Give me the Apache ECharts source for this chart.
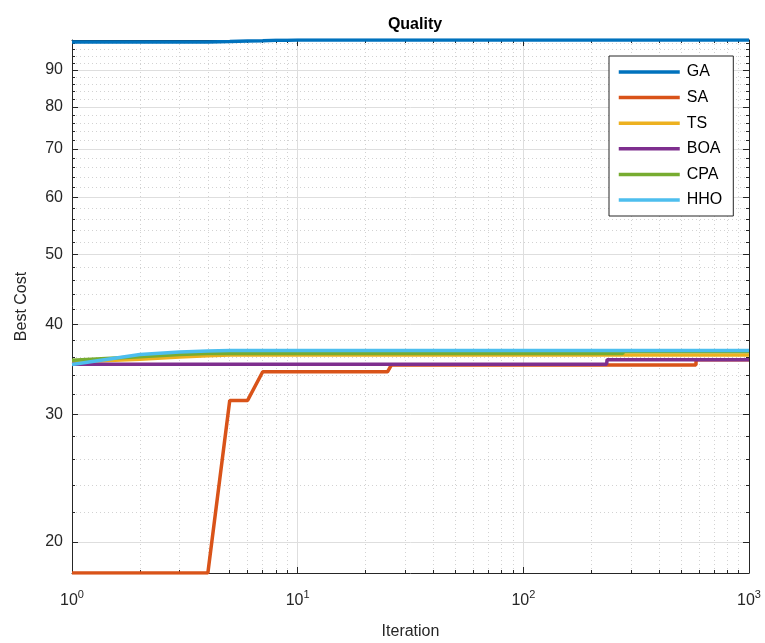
<!DOCTYPE html>
<html><head><meta charset="utf-8">
<script src="https://cdn.jsdelivr.net/npm/echarts@6/dist/echarts.min.js"></script>
<style>html,body{margin:0;padding:0;background:#fff}#c{width:765px;height:643px}</style>
</head><body><div id="c"></div>
<script>
// ---- data ----
const seriesNames = ['GA', 'SA', 'TS', 'BOA', 'CPA', 'HHO'];
const gaIter  = [1, 4, 5, 6, 7, 8, 9, 10, 1000];
const gaCost  = [98.4, 98.4, 98.55, 98.7, 98.8, 98.9, 98.95, 99.0, 99.0];
const saIter  = [1, 4, 5, 6, 7, 25, 26, 582, 583, 1000];
const saCost  = [18.12, 18.12, 31.4, 31.4, 34.4, 34.4, 35.15, 35.15, 35.75, 35.75];
const tsIter  = [1, 2, 3, 4, 5, 1000];
const tsCost  = [35.5, 35.8, 36.05, 36.2, 36.3, 36.3];
const boaIter = [1, 234, 235, 1000];
const boaCost = [35.25, 35.25, 35.75, 35.75];
const cpaIter = [1, 2, 3, 4, 276, 277, 1000];
const cpaCost = [35.7, 36.1, 36.35, 36.45, 36.45, 36.7, 36.7];
const hhoIter = [1, 2, 3, 4, 5, 1000];
const hhoCost = [35.2, 36.35, 36.65, 36.75, 36.8, 36.8];

const xMajorTicks = [1, 10, 100, 1000];
const xTickExp = ['0', '1', '2', '3'];
const xMinorTicks = [2, 3, 4, 5, 6, 7, 8, 9, 20, 30, 40, 50, 60, 70, 80, 90, 200, 300, 400, 500, 600, 700, 800, 900];
const yMajorTicks = [20, 30, 40, 50, 60, 70, 80, 90];
const yMinorTicks = [22, 24, 26, 28, 32, 34, 36, 38, 42, 44, 46, 48, 52, 54, 56, 58, 62, 64, 66, 68, 72, 74, 76, 78, 82, 84, 86, 88, 92, 94, 96, 98];
const xRange = [1, 1000];
const yRange = [18.12, 99.0];

// ---- styles ----
const colors = ['#0072BD', '#D95319', '#EDB120', '#7E2F8E', '#77AC30', '#4DBEEE'];
const FONT = 'Liberation Sans, Arial, Helvetica, sans-serif';
const AX = '#262626';

const zip = (a, b) => a.map((v, i) => [v, b[i]]);
const allData = [zip(gaIter, gaCost), zip(saIter, saCost), zip(tsIter, tsCost),
                 zip(boaIter, boaCost), zip(cpaIter, cpaCost), zip(hhoIter, hhoCost)];

function xAxisDef(position, major, show) {
  return {
    type: 'log', logBase: 10, min: xRange[0], max: xRange[1], position: position,
    axisLine: { show: show, onZero: false, lineStyle: { color: AX, width: 1 } },
    axisTick: { show: true, inside: true, length: major ? 6 : 3, customValues: major ? xMajorTicks : xMinorTicks, lineStyle: { color: AX } },
    axisLabel: show && position === 'bottom' ? {
      show: true, customValues: xMajorTicks, margin: 14,
      formatter: (v, i) => '{b|10}{s|' + xTickExp[xMajorTicks.indexOf(v)] + '}',
      rich: {
        b: { fontSize: 16, fontFamily: FONT, color: AX, verticalAlign: 'bottom', lineHeight: 22 },
        s: { fontSize: 11, fontFamily: FONT, color: AX, verticalAlign: 'bottom', lineHeight: 22, padding: [0, 0, 9, 0] }
      }
    } : { show: false },
    splitLine: position === 'bottom' ? (major ?
      { show: true, lineStyle: { color: '#dedede', width: 1, type: 'solid' } } :
      { show: true, lineStyle: { color: '#d2d2d2', width: 1, type: [1, 3] } }) : { show: false },
    name: show && position === 'bottom' ? 'Iteration' : '',
    nameLocation: 'middle', nameGap: 51,
    nameTextStyle: { fontSize: 16, fontFamily: FONT, color: AX }
  };
}
function yAxisDef(position, major, show) {
  return {
    type: 'log', logBase: 10, min: yRange[0], max: yRange[1], position: position,
    axisLine: { show: show, onZero: false, lineStyle: { color: AX, width: 1 } },
    axisTick: { show: true, inside: true, length: major ? 6 : 3, customValues: major ? yMajorTicks : yMinorTicks, lineStyle: { color: AX } },
    axisLabel: show && position === 'left' ? {
      show: true, customValues: yMajorTicks, margin: 9,
      fontSize: 16, fontFamily: FONT, color: AX, formatter: v => String(v)
    } : { show: false },
    splitLine: position === 'left' ? (major ?
      { show: true, lineStyle: { color: '#dedede', width: 1, type: 'solid' } } :
      { show: true, lineStyle: { color: '#d2d2d2', width: 1, type: [1, 3] } }) : { show: false },
    name: show && position === 'left' ? 'Best Cost' : '',
    nameLocation: 'middle', nameGap: 42, nameRotate: 90,
    nameTextStyle: { fontSize: 16, fontFamily: FONT, color: AX }
  };
}

const chart = echarts.init(document.getElementById('c'), null, { renderer: 'canvas' });
chart.setOption({
  animation: false,
  backgroundColor: '#fff',
  title: {
    text: 'Quality', left: 410, top: 12, textAlign: 'center',
    textStyle: { fontSize: 16, fontWeight: 'bold', fontFamily: FONT, color: '#000' }
  },
  grid: { left: 72, right: 16, top: 40, bottom: 70, containLabel: false, outerBoundsMode: 'none' },
  legend: {
    orient: 'vertical', left: 609, top: 56,
    itemWidth: 61, itemHeight: 14, itemGap: 9.6,
    padding: [8, 11, 8, 8],
    backgroundColor: '#fff', borderColor: AX, borderWidth: 1,
    itemStyle: { opacity: 0 },
    lineStyle: { width: 3.5 },
    textStyle: { fontSize: 16, fontFamily: FONT, color: '#000', padding: [0, 0, 0, 2] },
    data: seriesNames
  },
  xAxis: [xAxisDef('bottom', true, true), xAxisDef('bottom', false, false),
          xAxisDef('top', true, true), xAxisDef('top', false, false)],
  yAxis: [yAxisDef('left', true, true), yAxisDef('left', false, false),
          yAxisDef('right', true, true), yAxisDef('right', false, false)],
  series: seriesNames.map((n, i) => ({
    name: n, type: 'line', xAxisIndex: 0, yAxisIndex: 0,
    data: allData[i], showSymbol: false, symbol: 'none',
    lineStyle: { color: colors[i], width: 3.5 }, itemStyle: { color: colors[i] },
    z: 10 + i
  }))
});
</script></body></html>
